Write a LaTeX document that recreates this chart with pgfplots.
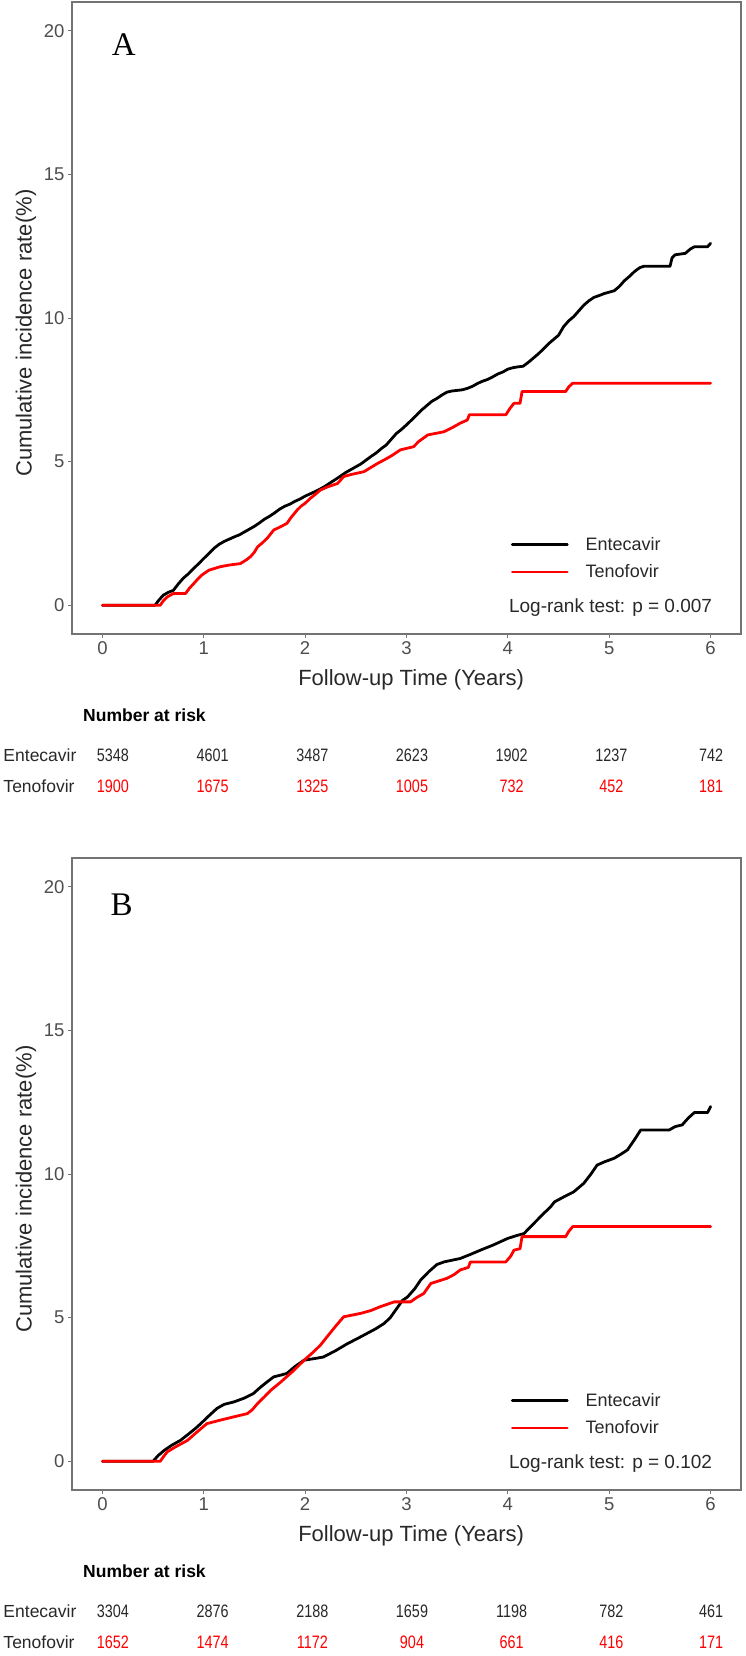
\documentclass[border=0pt]{standalone}
\usepackage{pgfplots}
\pgfplotsset{compat=1.18}
\usepackage{pgfplotstable}
\usepackage{graphicx}
\usepackage{fontspec}
\setmainfont{Liberation Sans}
\newfontfamily\panelfont{Liberation Serif}
\definecolor{framegray}{RGB}{115,115,115}
\definecolor{ticktext}{RGB}{77,77,77}
\definecolor{darktext}{RGB}{40,40,40}
\definecolor{kmred}{RGB}{255,0,0}

% Panel A: Entecavir
\pgfplotstableread{
t v
0 0
0.52 0
0.55 0.15
0.60 0.35
0.65 0.45
0.70 0.52
0.75 0.75
0.80 0.95
0.85 1.10
0.90 1.28
0.95 1.45
1.00 1.63
1.05 1.80
1.10 1.98
1.15 2.12
1.20 2.22
1.25 2.30
1.30 2.38
1.35 2.45
1.40 2.55
1.45 2.65
1.50 2.75
1.55 2.87
1.60 3.00
1.65 3.10
1.70 3.22
1.75 3.35
1.80 3.45
1.85 3.52
1.90 3.62
1.95 3.70
2.00 3.80
2.05 3.88
2.10 3.96
2.15 4.05
2.20 4.15
2.25 4.27
2.30 4.38
2.35 4.50
2.40 4.62
2.45 4.72
2.50 4.82
2.55 4.92
2.60 5.05
2.65 5.18
2.70 5.30
2.75 5.45
2.80 5.58
2.85 5.78
2.90 5.98
2.95 6.12
3.00 6.28
3.05 6.45
3.10 6.62
3.15 6.80
3.20 6.95
3.25 7.10
3.30 7.20
3.35 7.32
3.40 7.42
3.45 7.46
3.50 7.48
3.55 7.50
3.60 7.55
3.65 7.62
3.70 7.72
3.75 7.80
3.80 7.86
3.85 7.95
3.90 8.05
3.95 8.12
4.00 8.22
4.05 8.27
4.10 8.30
4.15 8.32
4.20 8.45
4.25 8.60
4.30 8.75
4.35 8.92
4.40 9.10
4.45 9.25
4.50 9.40
4.55 9.70
4.60 9.90
4.65 10.05
4.70 10.25
4.75 10.45
4.80 10.60
4.85 10.72
4.90 10.78
4.95 10.85
5.00 10.90
5.05 10.95
5.10 11.10
5.15 11.30
5.20 11.45
5.25 11.62
5.30 11.75
5.34 11.80
5.60 11.80
5.62 12.10
5.65 12.20
5.75 12.25
5.80 12.40
5.84 12.48
5.97 12.48
6.00 12.60
}\entA

% Panel A: Tenofovir
\pgfplotstableread{
t v
0 0
0.57 0
0.60 0.15
0.64 0.29
0.70 0.41
0.82 0.41
0.86 0.60
0.90 0.75
0.93 0.87
0.98 1.05
1.05 1.22
1.16 1.34
1.25 1.40
1.36 1.45
1.42 1.58
1.46 1.69
1.50 1.85
1.53 2.03
1.58 2.18
1.63 2.35
1.69 2.62
1.75 2.72
1.82 2.85
1.86 3.05
1.92 3.31
1.96 3.45
2.00 3.55
2.05 3.72
2.10 3.86
2.15 4.01
2.22 4.12
2.32 4.24
2.38 4.48
2.45 4.55
2.58 4.65
2.65 4.80
2.72 4.95
2.78 5.06
2.85 5.20
2.94 5.41
3.07 5.52
3.12 5.70
3.21 5.93
3.37 6.04
3.45 6.18
3.53 6.34
3.60 6.45
3.62 6.63
3.98 6.63
4.02 6.85
4.06 7.03
4.12 7.03
4.14 7.44
4.57 7.44
4.60 7.60
4.64 7.73
6.00 7.73
}\tenA

% Panel B: Entecavir
\pgfplotstableread{
t v
0 0
0.50 0
0.55 0.20
0.61 0.38
0.68 0.55
0.77 0.73
0.85 0.95
0.92 1.15
0.97 1.31
1.05 1.58
1.13 1.84
1.20 1.98
1.30 2.07
1.40 2.20
1.49 2.36
1.55 2.55
1.62 2.75
1.69 2.94
1.76 3.00
1.82 3.06
1.90 3.30
1.99 3.52
2.10 3.58
2.18 3.63
2.30 3.85
2.42 4.10
2.52 4.28
2.61 4.45
2.70 4.62
2.78 4.80
2.84 5.00
2.90 5.30
2.96 5.60
3.01 5.72
3.08 6.00
3.14 6.31
3.22 6.60
3.30 6.85
3.37 6.94
3.45 7.00
3.53 7.06
3.63 7.20
3.73 7.35
3.85 7.52
4.00 7.76
4.08 7.85
4.16 7.93
4.22 8.15
4.29 8.40
4.36 8.65
4.42 8.85
4.46 9.03
4.55 9.20
4.65 9.38
4.75 9.68
4.82 10.00
4.88 10.31
4.95 10.42
5.05 10.55
5.12 10.70
5.18 10.84
5.25 11.20
5.31 11.53
5.59 11.53
5.65 11.65
5.72 11.71
5.78 11.95
5.84 12.14
5.97 12.14
6.00 12.35
}\entB

% Panel B: Tenofovir
\pgfplotstableread{
t v
0 0
0.57 0
0.60 0.15
0.64 0.33
0.72 0.50
0.84 0.73
0.92 0.98
1.03 1.31
1.16 1.43
1.30 1.55
1.43 1.66
1.48 1.80
1.53 2.01
1.60 2.25
1.66 2.47
1.76 2.76
1.82 2.95
1.89 3.17
1.99 3.52
2.08 3.80
2.15 4.04
2.22 4.35
2.30 4.70
2.38 5.03
2.55 5.15
2.65 5.25
2.74 5.38
2.88 5.55
3.04 5.55
3.10 5.70
3.17 5.84
3.24 6.19
3.40 6.37
3.47 6.50
3.53 6.66
3.61 6.75
3.63 6.94
3.98 6.94
4.03 7.15
4.06 7.35
4.12 7.40
4.14 7.82
4.57 7.82
4.60 8.00
4.64 8.17
6.00 8.17
}\tenB

% Number at risk
\pgfplotstableread{
t e f
0 5348 1900
1 4601 1675
2 3487 1325
3 2623 1005
4 1902 732
5 1237 452
6 742 181
}\riskA
\pgfplotstableread{
t e f
0 3304 1652
1 2876 1474
2 2188 1172
3 1659 904
4 1198 661
5 782 416
6 461 171
}\riskB

\pgfplotsset{
  kmaxis/.style={
    scale only axis, width=669pt, height=632pt, anchor=south west,
    xmin=-0.3, xmax=6.3, ymin=-1, ymax=21,
    clip=false,
    axis line style={framegray, line width=1.3pt},
    xtick={0,1,2,3,4,5,6}, ytick={0,5,10,15,20},
    tick align=outside, xtick pos=bottom, ytick pos=left,
    major tick length=4pt,
    tick style={framegray, line width=1pt},
    /pgf/number format/assume math mode=true,
    tick label style={font=\fontsize{18.5}{20}\selectfont, text=ticktext},
    xlabel={Follow-up Time (Years)},
    ylabel={Cumulative incidence rate(\%)},
    label style={font=\fontsize{22}{24}\selectfont, text=darktext},
    xlabel style={at={(axis description cs:0.507,-0.073)}, anchor=center},
    ylabel style={at={(axis description cs:-0.069,0.476)}, anchor=center},
    legend cell align=left,
    legend image code/.code={\draw[##1] (0pt,0pt) -- (55pt,0pt);},
    legend style={draw=none, fill=none, inner sep=0pt, outer sep=0pt,
      row sep=13pt, column sep=17pt,
      nodes={inner sep=0pt, font=\fontsize{18}{20}\selectfont, text=darktext},
      at={(axis cs:4.03,1.64)}, anchor=west},
  },
  kmline/.style={sharp plot, #1, line width=2.8pt, line join=round, line cap=round},
  riskaxis/.style={
    scale only axis, width=658pt, height=62pt, anchor=south west,
    xmin=-0.3, xmax=6.3, ymin=-0.5, ymax=1.5,
    clip=false,
    axis line style={draw=none},
    xtick=\empty, ytick={0,1}, yticklabels={Tenofovir,Entecavir},
    ytick pos=left, major tick length=0pt, tick style={draw=none},
    yticklabel style={anchor=west, inner sep=0pt, xshift=-79.7pt,
      font=\fontsize{17.5}{19}\selectfont, text=darktext},
  },
  riskrow/.style={draw=none, mark=none, nodes near coords={\scalebox{0.8}[1]{\pgfplotspointmeta}},
    point meta=explicit symbolic, nodes near coords align={center},
    every node near coord/.append style={inner sep=0pt, font=\fontsize{18}{20}\selectfont, text=#1}},
}

\begin{document}
\begin{tikzpicture}
\path[use as bounding box] (0pt,0pt) rectangle (745pt,-1656pt);

% ---------- Panel A ----------
\begin{axis}[kmaxis, at={(72pt,-634pt)}]
\addplot[kmline=black] table[x=t,y=v] {\entA};
\addlegendentry{Entecavir}
\addplot[kmline=kmred] table[x=t,y=v] {\tenA};
\addlegendentry{Tenofovir}
\node[anchor=west, inner sep=0pt, font=\fontsize{19}{21}\selectfont, text=darktext] at (axis cs:4.01,-0.07) {Log-rank test: p = 0.007};
\node[font=\panelfont\fontsize{33}{35}\selectfont, inner sep=0pt] at (axis cs:0.21,19.53) {A};
\end{axis}

\begin{axis}[riskaxis, at={(83pt,-801.5pt)}]
\addplot[riskrow=darktext] table[x=t, y expr=1, meta=e] {\riskA};
\addplot[riskrow=kmred] table[x=t, y expr=0, meta=f] {\riskA};
\node[anchor=west, inner sep=0pt, font=\bfseries\fontsize{17.5}{19}\selectfont, text=black] at (rel axis cs:0,1) [yshift=24.5pt] {Number at risk};
\end{axis}

% ---------- Panel B ----------
\begin{axis}[kmaxis, at={(72pt,-1490pt)}]
\addplot[kmline=black] table[x=t,y=v] {\entB};
\addlegendentry{Entecavir}
\addplot[kmline=kmred] table[x=t,y=v] {\tenB};
\addlegendentry{Tenofovir}
\node[anchor=west, inner sep=0pt, font=\fontsize{19}{21}\selectfont, text=darktext] at (axis cs:4.01,-0.07) {Log-rank test: p = 0.102};
\node[font=\panelfont\fontsize{33}{35}\selectfont, inner sep=0pt] at (axis cs:0.19,19.37) {B};
\end{axis}

\begin{axis}[riskaxis, at={(83pt,-1657.5pt)}]
\addplot[riskrow=darktext] table[x=t, y expr=1, meta=e] {\riskB};
\addplot[riskrow=kmred] table[x=t, y expr=0, meta=f] {\riskB};
\node[anchor=west, inner sep=0pt, font=\bfseries\fontsize{17.5}{19}\selectfont, text=black] at (rel axis cs:0,1) [yshift=24.5pt] {Number at risk};
\end{axis}
\end{tikzpicture}
\end{document}
